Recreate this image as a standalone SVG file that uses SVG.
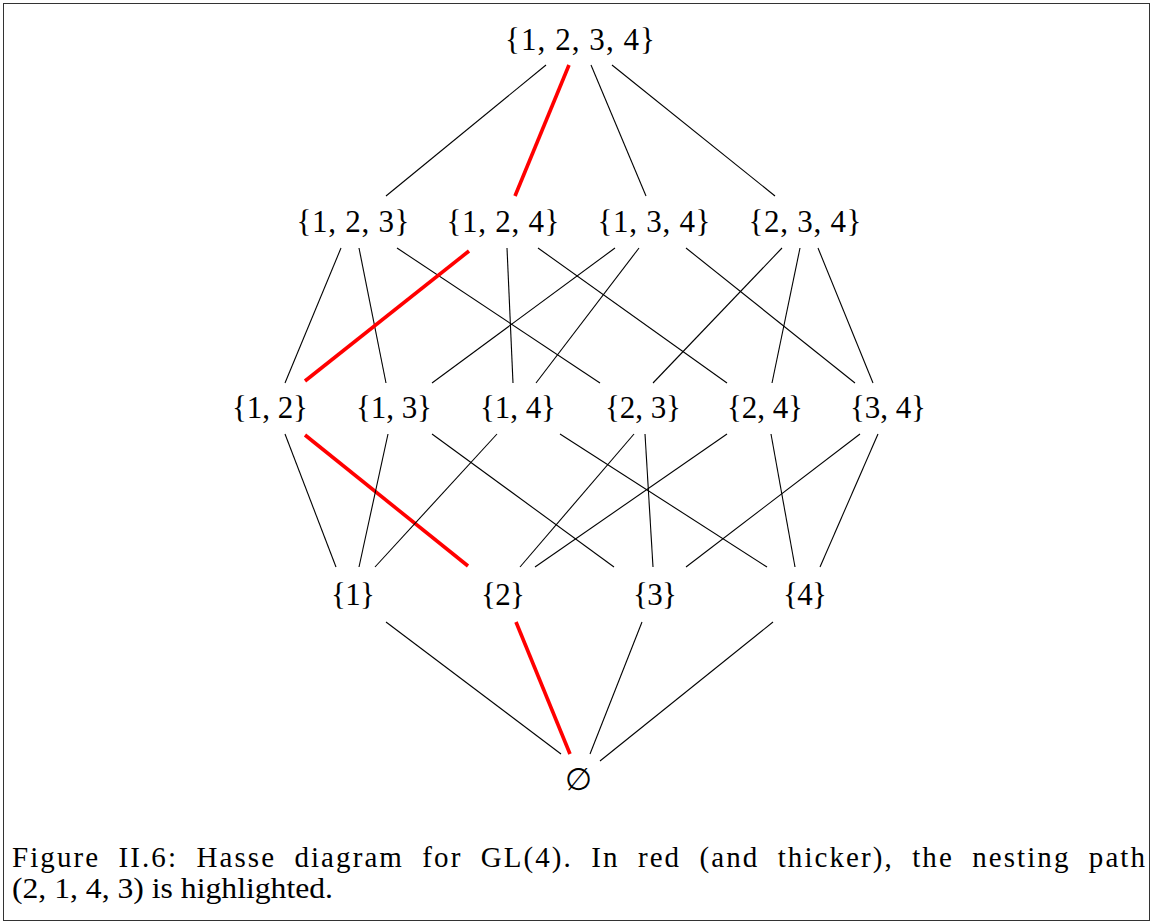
<svg xmlns="http://www.w3.org/2000/svg" width="1152" height="923" viewBox="0 0 1152 923">
<style>
.n{font-family:"Liberation Serif","DejaVu Serif",serif;font-size:31px;fill:#000;text-anchor:middle}
.c{font-family:"Liberation Serif","DejaVu Serif",serif;font-size:29px;fill:#000}
.e line{stroke:#000;stroke-width:1.1}
.e line.r{stroke:#ff0000;stroke-width:3.6}
</style>
<rect x="3.5" y="3.5" width="1146" height="917" fill="#fff" stroke="#333" stroke-width="1"/>
<g id="edges" class="e">
<line x1="546" y1="65" x2="386" y2="196"/>
<line class="r" x1="569" y1="65" x2="515" y2="196"/>
<line x1="591" y1="65" x2="646" y2="196"/>
<line x1="612" y1="65" x2="775" y2="196"/>
<line x1="341" y1="248" x2="285" y2="383"/>
<line x1="359" y1="248" x2="386" y2="383"/>
<line x1="397" y1="248" x2="600" y2="383"/>
<line class="r" x1="469" y1="251" x2="305" y2="381"/>
<line x1="507" y1="248" x2="513" y2="383"/>
<line x1="538" y1="248" x2="727" y2="383"/>
<line x1="615" y1="248" x2="432" y2="383"/>
<line x1="639" y1="248" x2="536" y2="383"/>
<line x1="686" y1="248" x2="855" y2="383"/>
<line x1="782" y1="248" x2="653" y2="383"/>
<line x1="800" y1="248" x2="772" y2="383"/>
<line x1="818" y1="248" x2="873" y2="383"/>
<line x1="285" y1="434" x2="336" y2="567"/>
<line class="r" x1="305" y1="435" x2="468" y2="566"/>
<line x1="388" y1="434" x2="359" y2="567"/>
<line x1="432" y1="434" x2="614" y2="567"/>
<line x1="497" y1="434" x2="375" y2="567"/>
<line x1="560" y1="434" x2="767" y2="567"/>
<line x1="634" y1="434" x2="520" y2="567"/>
<line x1="645" y1="434" x2="653" y2="567"/>
<line x1="727" y1="434" x2="535" y2="567"/>
<line x1="771" y1="434" x2="795" y2="567"/>
<line x1="860" y1="434" x2="686" y2="567"/>
<line x1="878" y1="434" x2="820" y2="567"/>
<line x1="386" y1="622" x2="561" y2="754"/>
<line class="r" x1="516" y1="622" x2="570" y2="754"/>
<line x1="642" y1="622" x2="590" y2="754"/>
<line x1="773" y1="622" x2="600" y2="761"/>
</g>
<g id="n1234"><text class="n" x="580" y="50" textLength="150" lengthAdjust="spacing">{1, 2, 3, 4}</text></g>
<g id="n123"><text class="n" x="353" y="232" textLength="113" lengthAdjust="spacing">{1, 2, 3}</text></g>
<g id="n124"><text class="n" x="503" y="232" textLength="113" lengthAdjust="spacing">{1, 2, 4}</text></g>
<g id="n134"><text class="n" x="654" y="232" textLength="113" lengthAdjust="spacing">{1, 3, 4}</text></g>
<g id="n234"><text class="n" x="805" y="232" textLength="113" lengthAdjust="spacing">{2, 3, 4}</text></g>
<g id="n12"><text class="n" x="270" y="418" textLength="76" lengthAdjust="spacing">{1, 2}</text></g>
<g id="n13"><text class="n" x="394" y="418" textLength="76" lengthAdjust="spacing">{1, 3}</text></g>
<g id="n14"><text class="n" x="518" y="418" textLength="76" lengthAdjust="spacing">{1, 4}</text></g>
<g id="n23"><text class="n" x="643" y="418" textLength="76" lengthAdjust="spacing">{2, 3}</text></g>
<g id="n24"><text class="n" x="765" y="418" textLength="76" lengthAdjust="spacing">{2, 4}</text></g>
<g id="n34"><text class="n" x="888" y="418" textLength="76" lengthAdjust="spacing">{3, 4}</text></g>
<g id="n1"><text class="n" x="353" y="605" textLength="44" lengthAdjust="spacing">{1}</text></g>
<g id="n2"><text class="n" x="503" y="605" textLength="44" lengthAdjust="spacing">{2}</text></g>
<g id="n3"><text class="n" x="655" y="605" textLength="44" lengthAdjust="spacing">{3}</text></g>
<g id="n4"><text class="n" x="805" y="605" textLength="44" lengthAdjust="spacing">{4}</text></g>
<g id="nempty"><text class="n" x="578" y="790">∅</text></g>
<g id="caption">
<text class="c" x="12" y="867" textLength="1133" lengthAdjust="spacing" style="word-spacing:9px">Figure II.6:  Hasse diagram for GL(4).  In red (and thicker), the nesting path</text>
<text class="c" x="12" y="898" textLength="321" lengthAdjust="spacingAndGlyphs">(2, 1, 4, 3) is highlighted.</text>
</g>
</svg>
